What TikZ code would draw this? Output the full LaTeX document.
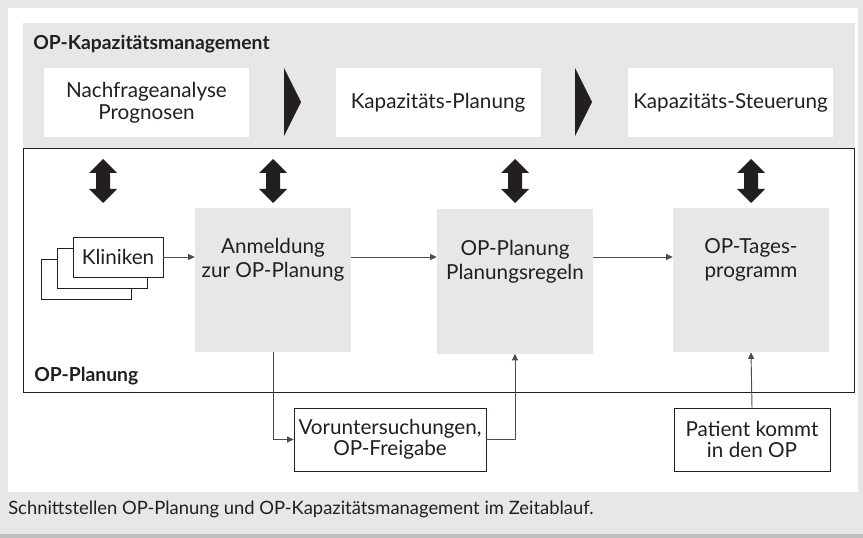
\documentclass[tikz,border=0pt]{standalone}
\usepackage{fontspec}
\setmainfont{Lato}
\usetikzlibrary{arrows.meta, positioning, calc}
\definecolor{kapgray}{HTML}{E6E7E8}
\definecolor{shadegray}{HTML}{BDBEC0}
\definecolor{inkgray}{HTML}{231F20}
\definecolor{lnkgray}{HTML}{4D4D4F}
\tikzset{
  kbox/.style={rectangle, fill=white, minimum width=153.75pt, minimum height=51.75pt,
               align=center, text=inkgray, font=\fontsize{15.5}{16.5}\selectfont},
  pbox/.style={rectangle, fill=kapgray, minimum width=117pt, minimum height=108pt},
  ptxt/.style={align=center, inner sep=0pt, text=inkgray,
               font=\fontsize{15.5}{18}\selectfont},
  wbox/.style={rectangle, draw=inkgray, fill=white, line width=0.6pt, align=center,
               text=inkgray, font=\fontsize{15.5}{16}\selectfont},
  ttl/.style={anchor=west, inner sep=0pt, text=inkgray, font=\bfseries\fontsize{14.5}{16}\selectfont},
  con/.style={-{Triangle[length=5pt, width=4.5pt]}, line width=0.7pt, draw=lnkgray},
}

\begin{document}
\begin{tikzpicture}[x=0.75pt, y=-0.75pt]
  \useasboundingbox (0,0) rectangle (863,538);
  % --- page background ---
  \fill[kapgray] (0,0) rectangle (863,538);
  \fill[shadegray] (0,534) rectangle (863,538);
  \fill[white] (8,8) rectangle (858,492);

  % --- OP-Kapazitaetsmanagement (top band) ---
  \fill[kapgray] (23,23) rectangle (855,148);
  \node[ttl] (kaptitle) at (33,44) {OP-Kapazitätsmanagement};
  \node[kbox] (nachfrage) at (146.5,102.5) {Nachfrageanalyse\\Prognosen};
  \node[kbox] (kapplan) at (438,102.5) {Kapazitäts-Planung};
  \node[kbox] (kapsteuer) at (730.5,102.5) {Kapazitäts-Steuerung};
  % chevrons between the phases
  \foreach \tx in {284,575}
    \fill[inkgray] (\tx,68) -- (\tx+17,102) -- (\tx,136) -- cycle;

  % --- OP-Planung (frame) ---
  \draw[fill=white, line width=0.7pt, draw=inkgray] (23,148) rectangle (854,392);
  \node[ttl] (plantitle) at (34,376) {OP-Planung};
  % exchange arrows
  \foreach \ax in {103,273,515,751}
    \fill[inkgray] (\ax,159) -- ++(14,14) -- ++(-7,0) -- ++(0,16) -- ++(7,0) -- (\ax,203)
      -- ++(-14,-14) -- ++(7,0) -- ++(0,-16) -- ++(-7,0) -- cycle;

  % planning steps
  \node[pbox] (anm) at (273,280) {};
  \node[ptxt, below=23pt of anm.north] (anmtxt) {Anmeldung\\zur OP-Planung};
  \node[pbox] (opp) at (515,281.5) {};
  \node[ptxt, below=23pt of opp.north] (opptxt) {OP-Planung\\Planungsregeln};
  \node[pbox] (tag) at (751,280) {};
  \node[ptxt, below=23pt of tag.north] (tagtxt) {OP-Tages-\\programm};

  % Kliniken (stacked)
  \node[wbox, minimum width=67.5pt, minimum height=30pt] (kli3) at (86,279) {};
  \node[wbox, minimum width=67.5pt, minimum height=30pt] (kli2) at (102,268) {};
  \node[wbox, minimum width=67.5pt, minimum height=30pt] (kli) at (118,257) {Kliniken};

  % outside the frame
  \node[wbox, minimum width=141pt, minimum height=47.25pt] (vor) at (390,439.5) {Voruntersuchungen,\\OP-Freigabe};
  \node[wbox, minimum width=117pt, minimum height=47.25pt] (pat) at (752,439.5) {Patient kommt\\in den OP};

  % --- connectors ---
  \draw[con] (kli.east) -- (kli.east -| anm.west);
  \draw[con] (kli.east -| anm.east) -- (kli.east -| opp.west);
  \draw[con] (kli.east -| opp.east) -- (kli.east -| tag.west);
  \draw[con] (anm.south) |- (vor.west);
  \draw[con] (vor.east) -| (opp.south);
  \draw[con] (pat.north) -- (tag.south);

  % --- caption ---
  \node[anchor=west, inner sep=0pt, text=inkgray, font=\fontsize{13.8}{15}\selectfont] (caption) at (8,509)
    {Schnittstellen OP-Planung und OP-Kapazitätsmanagement im Zeitablauf.};
\end{tikzpicture}
\end{document}
